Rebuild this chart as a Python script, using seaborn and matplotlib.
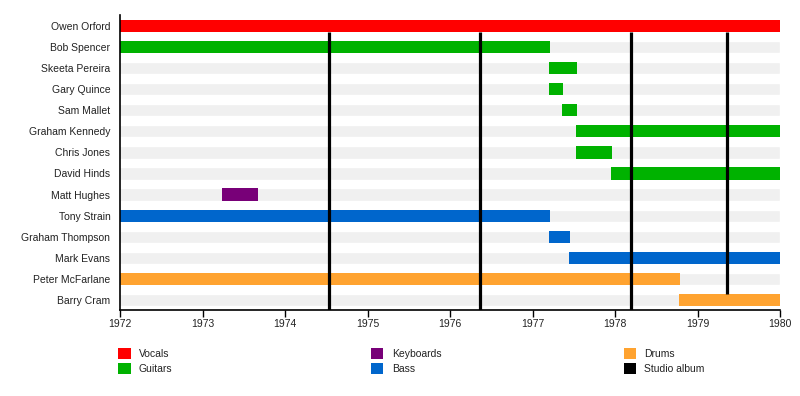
import matplotlib
matplotlib.use("Agg")
import matplotlib.pyplot as plt
from matplotlib.patches import Patch
import seaborn as sns

# Members top to bottom, one span each
members = ["Owen Orford", "Bob Spencer", "Skeeta Pereira", "Gary Quince", "Sam Mallet",
           "Graham Kennedy", "Chris Jones", "David Hinds", "Matt Hughes", "Tony Strain",
           "Graham Thompson", "Mark Evans", "Peter McFarlane", "Barry Cram"]
roles = ["Vocals", "Guitars", "Guitars", "Guitars", "Guitars",
         "Guitars", "Guitars", "Guitars", "Keyboards", "Bass",
         "Bass", "Bass", "Drums", "Drums"]
starts = [1972.0, 1972.0, 1977.2, 1977.2, 1977.36,
          1977.53, 1977.53, 1977.95, 1973.24, 1972.0,
          1977.2, 1977.44, 1972.0, 1978.78]
ends = [1980.0, 1977.21, 1977.54, 1977.37, 1977.54,
        1980.0, 1977.96, 1980.0, 1973.67, 1977.21,
        1977.45, 1980.0, 1978.79, 1980.0]

albums = [1974.53, 1976.36, 1978.19, 1979.36]
album_bottoms = [13.5, 13.5, 13.5, 12.71]

years = list(range(1972, 1981))

colors = {
    "Vocals": "#ff0000",
    "Guitars": "#00b200",
    "Keyboards": "#780078",
    "Bass": "#0066cc",
    "Drums": "#ffa330",
    "Studio album": "#000000",
}

sns.set_theme(style="white")
plt.rcParams['font.family'] = ['Liberation Sans', 'DejaVu Sans']

fig = plt.figure(figsize=(8, 3.96), dpi=100)
ax = fig.add_axes([0.15, 0.216, 0.825, 0.745])

bar_h = 0.58
# grey background rows
sns.barplot(x=[years[-1]] * len(members), y=members, color="#f0f0f0",
            width=bar_h, orient="h", ax=ax, saturation=1)

for i, (r, s, e) in enumerate(zip(roles, starts, ends)):
    ax.barh(i, e - s, left=s, height=bar_h, color=colors[r], linewidth=0, zorder=2)

for x, yb in zip(albums, album_bottoms):
    ax.vlines(x, 0.29, yb, color="black", lw=2.3, zorder=3)

ax.set_xlim(years[0], years[-1])
ax.set_ylim(13.5, -0.5)
ax.set_xticks(years)
ax.set_xticklabels([str(y) for y in years])
ax.set_xlabel("")
ax.set_ylabel("")
ax.tick_params(axis="x", bottom=True, length=5, width=1, color="black",
               labelsize=7.5, pad=1.5)
ax.tick_params(axis="y", left=False, length=0, labelsize=7.5, pad=7)
for t in ax.get_xticklabels() + ax.get_yticklabels():
    t.set_color("#222222")
sns.despine(ax=ax)
for sp in ["left", "bottom"]:
    ax.spines[sp].set_color("black")
    ax.spines[sp].set_linewidth(1.2)
ax.grid(False)

# legend, three columns of two entries
legend_names = list(colors.keys())
col_x = [0.1475, 0.4635, 0.7795]
for c in range(3):
    names = legend_names[2 * c:2 * c + 2]
    handles = [Patch(facecolor=colors[n], edgecolor="none") for n in names]
    leg = fig.legend(handles, names, loc="upper left", bbox_to_anchor=(col_x[c], 0.122),
                     frameon=False, fontsize=7.5, handlelength=1.2, handleheight=1.25,
                     handletextpad=0.8, labelspacing=0.45, borderpad=0, borderaxespad=0)
    for t in leg.get_texts():
        t.set_color("#222222")

fig.savefig("out.png", dpi=100)
